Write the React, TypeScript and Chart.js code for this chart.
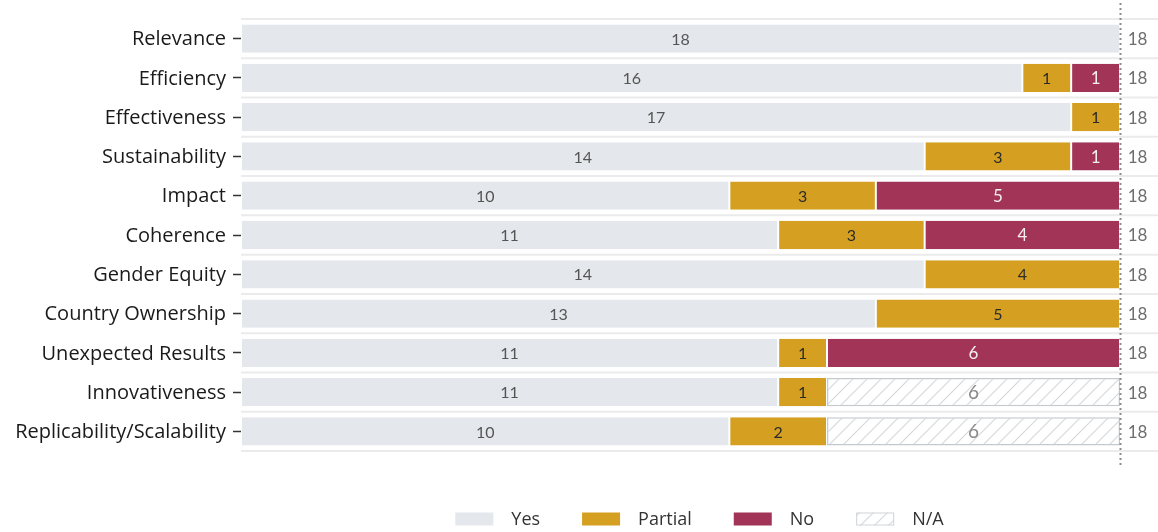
import React, { useEffect, useRef } from "react";
import { Chart, registerables } from "chart.js";

Chart.register(...registerables);

const categories = [
  "Relevance",
  "Efficiency",
  "Effectiveness",
  "Sustainability",
  "Impact",
  "Coherence",
  "Gender Equity",
  "Country Ownership",
  "Unexpected Results",
  "Innovativeness",
  "Replicability/Scalability",
];
const yesValues = [18, 16, 17, 14, 10, 11, 14, 13, 11, 11, 10];
const partialValues = [0, 1, 1, 3, 3, 3, 4, 5, 1, 1, 2];
const noValues = [0, 1, 0, 1, 5, 4, 0, 0, 6, 0, 0];
const naValues = [0, 0, 0, 0, 0, 0, 0, 0, 0, 6, 6];
const totals = [18, 18, 18, 18, 18, 18, 18, 18, 18, 18, 18];
const legendLabels = ["Yes", "Partial", "No", "N/A"];

const FONT = "'Open Sans', Lato, sans-serif";
const NUMFONT = "Lato, 'Open Sans', sans-serif";
const YES = "#e4e7eb";
const PARTIAL = "#d5a021";
const NO = "#a23457";

function makeHatch(): CanvasPattern | string {
  const c = document.createElement("canvas");
  const s = 14;
  c.width = s;
  c.height = s;
  const ctx = c.getContext("2d");
  if (!ctx) return "#ffffff";
  ctx.fillStyle = "#ffffff";
  ctx.fillRect(0, 0, s, s);
  ctx.strokeStyle = "#d6d9dc";
  ctx.lineWidth = 1.2;
  ctx.beginPath();
  ctx.moveTo(0, s);
  ctx.lineTo(s, 0);
  ctx.moveTo(-s / 2, s / 2);
  ctx.lineTo(s / 2, -s / 2);
  ctx.moveTo(s / 2, s * 1.5);
  ctx.lineTo(s * 1.5, s / 2);
  ctx.stroke();
  return ctx.createPattern(c, "repeat") || "#ffffff";
}

export default function App() {
  const ref = useRef<HTMLCanvasElement | null>(null);

  useEffect(() => {
    document.body.style.margin = "0";
    const canvas = ref.current;
    if (!canvas) return;
    const hatch = makeHatch();

    const gridPlugin = {
      id: "rowLines",
      beforeDatasetsDraw(chart: any) {
        const { ctx, chartArea } = chart;
        const n = categories.length;
        const step = (chartArea.bottom - chartArea.top) / n;
        ctx.save();
        ctx.strokeStyle = "#ebebeb";
        ctx.lineWidth = 2;
        for (let i = 0; i <= n; i++) {
          const y = chartArea.top + i * step;
          ctx.beginPath();
          ctx.moveTo(chartArea.left, y);
          ctx.lineTo(chart.width, y);
          ctx.stroke();
        }
        ctx.restore();
      },
    };

    const labelPlugin = {
      id: "segLabels",
      afterDatasetsDraw(chart: any) {
        const { ctx, chartArea } = chart;
        ctx.save();
        ctx.textAlign = "center";
        ctx.textBaseline = "middle";
        const styles = [
          { color: "#555555", size: 16 },
          { color: "#2b2b2b", size: 16 },
          { color: "#f4eef0", size: 17 },
          { color: "#8a8a8a", size: 19 },
        ];
        chart.data.datasets.forEach((ds: any, di: number) => {
          const meta = chart.getDatasetMeta(di);
          meta.data.forEach((bar: any, i: number) => {
            const v = ds.data[i];
            if (!v) return;
            const st = styles[di];
            ctx.fillStyle = st.color;
            ctx.font = `${st.size}px ${NUMFONT}`;
            ctx.fillText(String(v), (bar.x + bar.base) / 2, bar.y + 1);
          });
        });
        // dotted total line
        const xs = chart.scales.x;
        const x18 = Math.round(xs.getPixelForValue(18)) + 0.5;
        ctx.strokeStyle = "#8c8c8c";
        ctx.lineWidth = 2;
        ctx.setLineDash([2, 3]);
        ctx.beginPath();
        ctx.moveTo(x18, 3);
        ctx.lineTo(x18, chartArea.bottom + 15);
        ctx.stroke();
        ctx.setLineDash([]);
        // totals
        const ys = chart.scales.y;
        ctx.fillStyle = "#6e6e6e";
        ctx.font = `17px ${NUMFONT}`;
        totals.forEach((t, i) => {
          ctx.fillText(String(t), x18 + 17, ys.getPixelForValue(i) + 1);
        });
        ctx.restore();
      },
    };

    const legendPlugin = {
      id: "customLegend",
      afterDraw(chart: any) {
        const { ctx, chartArea } = chart;
        ctx.save();
        ctx.font = `18px ${FONT}`;
        const boxW = 38;
        const boxH = 13;
        const gap = 18;
        const space = 42;
        const widths = legendLabels.map((l) => ctx.measureText(l).width);
        const total =
          widths.reduce((a, w) => a + boxW + gap + w, 0) + space * (legendLabels.length - 1);
        let x = (chartArea.left + chart.width) / 2 - total / 2;
        const cy = 519;
        const fills = [YES, PARTIAL, NO, hatch];
        legendLabels.forEach((l, i) => {
          ctx.fillStyle = fills[i];
          ctx.fillRect(x, cy - boxH / 2, boxW, boxH);
          if (i === 3) {
            ctx.strokeStyle = "#d0d4d8";
            ctx.lineWidth = 1;
            ctx.strokeRect(x + 0.5, cy - boxH / 2 + 0.5, boxW - 1, boxH - 1);
          }
          ctx.fillStyle = "#333333";
          ctx.textAlign = "left";
          ctx.textBaseline = "middle";
          ctx.fillText(l, x + boxW + gap, cy + 1);
          x += boxW + gap + widths[i] + space;
        });
        ctx.restore();
      },
    };

    const common = {
      borderColor: "#ffffff",
      borderWidth: { left: 1, right: 1, top: 0, bottom: 0 },
      borderSkipped: false,
      categoryPercentage: 1,
      barPercentage: 0.72,
    };

    const chart = new Chart(canvas, {
      type: "bar",
      data: {
        labels: categories,
        datasets: [
          { label: "Yes", data: yesValues, backgroundColor: YES, ...common },
          { label: "Partial", data: partialValues, backgroundColor: PARTIAL, ...common },
          { label: "No", data: noValues, backgroundColor: NO, ...common },
          {
            label: "N/A",
            data: naValues,
            backgroundColor: hatch as any,
            categoryPercentage: 1,
            barPercentage: 0.72,
            borderColor: "#c4c9ce",
            borderWidth: 1.5,
            borderSkipped: false,
          },
        ],
      },
      options: {
        indexAxis: "y",
        animation: false,
        responsive: false,
        maintainAspectRatio: false,
        layout: { padding: { top: 19, right: 38, bottom: 81, left: 0 } },
        plugins: {
          legend: { display: false },
          tooltip: { enabled: false },
        },
        scales: {
          x: {
            stacked: true,
            min: 0,
            max: 18,
            display: false,
          },
          y: {
            stacked: true,
            offset: true,
            afterFit(scale: any) {
              scale.width = 241;
            },
            border: { display: false },
            grid: {
              offset: false,
              drawOnChartArea: false,
              drawTicks: true,
              tickLength: 8,
              tickWidth: 1.5,
              tickColor: "#333333",
            },
            ticks: {
              color: "#1a1a1a",
              padding: 7,
              labelOffset: 1,
              font: { family: FONT, size: 20 },
            },
          },
        },
      },
      plugins: [gridPlugin, labelPlugin, legendPlugin],
    } as any);

    return () => chart.destroy();
  }, []);

  return (
    <div style={{ width: 1158, height: 532 }}>
      <canvas ref={ref} width={1158} height={532} style={{ display: "block" }} />
    </div>
  );
}
